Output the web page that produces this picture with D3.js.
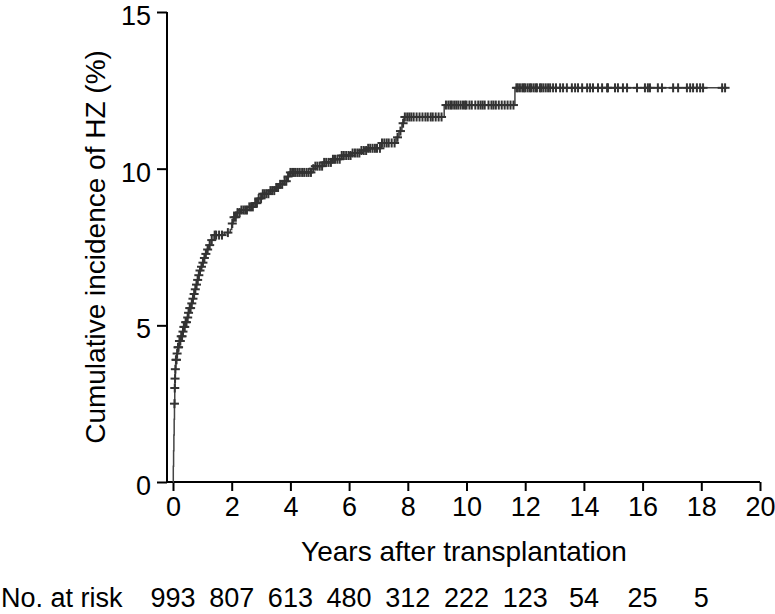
<!DOCTYPE html>
<html>
<head>
<meta charset="utf-8">
<script src="https://cdn.jsdelivr.net/npm/d3@7"></script>
<style>
  html, body { margin: 0; padding: 0; background: #fff; }
  svg { display: block; }
  text { font-family: "Liberation Sans", Arial, sans-serif; fill: #000; }
</style>
</head>
<body>
<svg id="chart" width="775" height="614"></svg>
<script>
// ---- data ----
const xTicks = [0, 2, 4, 6, 8, 10, 12, 14, 16, 18, 20];
const yTicks = [0, 5, 10, 15];
const riskTimes = [0, 2, 4, 6, 8, 10, 12, 14, 16, 18];
const riskCounts = [993, 807, 613, 480, 312, 222, 123, 54, 25, 5];
const eventTimes = [0, 0.01, 0.02, 0.03, 0.04, 0.05, 0.06, 0.07, 0.08, 0.1, 0.13, 0.17, 0.22, 0.27, 0.32, 0.37,
  0.42, 0.47, 0.52, 0.57, 0.62, 0.67, 0.72, 0.76, 0.8, 0.84, 0.88, 0.92, 0.96, 1.0, 1.05, 1.1, 1.15, 1.2,
  1.3, 1.4, 1.75, 1.95, 2.0, 2.05, 2.15, 2.3, 2.6, 2.75, 2.9, 3.05, 3.3, 3.5, 3.65, 3.78, 3.9, 3.97,
  4.72, 4.85, 5.1, 5.4, 5.75, 6.1, 6.4, 6.65, 7.1, 7.6, 7.7, 7.8, 7.87, 9.24, 11.65];
const eventValues = [0, 0.5, 1.0, 1.5, 2.0, 2.5, 3.0, 3.3, 3.6, 3.9, 4.1, 4.3, 4.5, 4.65, 4.8, 4.95,
  5.1, 5.25, 5.4, 5.55, 5.7, 5.85, 6.0, 6.15, 6.3, 6.45, 6.6, 6.75, 6.87, 7.0, 7.15, 7.28, 7.42, 7.56,
  7.72, 7.88, 7.96, 8.06, 8.25, 8.45, 8.6, 8.68, 8.78, 8.9, 9.05, 9.2, 9.3, 9.4, 9.5, 9.6, 9.75, 9.88,
  10.0, 10.08, 10.2, 10.3, 10.42, 10.5, 10.58, 10.65, 10.82, 11.0, 11.2, 11.45, 11.65, 12.03, 12.58];
const endTime = 18.87;
const censorTimes = [0.05, 0.06, 0.07, 0.08, 0.1, 0.12, 0.14, 0.17, 0.19, 0.22, 0.25, 0.28, 0.31, 0.34, 0.37, 0.4, 0.43, 0.46,
  0.5, 0.53, 0.57, 0.6, 0.64, 0.68, 0.72, 0.76, 0.8, 0.84, 0.88, 0.92, 0.97, 1.02, 1.07, 1.12, 1.18, 1.25,
  1.32, 1.42, 1.47, 1.57, 1.67, 1.87, 2.02, 2.08, 2.14, 2.2, 2.27, 2.33, 2.4, 2.46, 2.52, 2.6, 2.66, 2.72,
  2.8, 2.86, 2.92, 3.0, 3.06, 3.12, 3.18, 3.25, 3.32, 3.38, 3.45, 3.52, 3.58, 3.65, 3.72, 3.8, 3.86, 3.92,
  4.0, 4.06, 4.12, 4.18, 4.25, 4.32, 4.4, 4.47, 4.55, 4.62, 4.7, 4.78, 4.85, 4.92, 5.0, 5.08, 5.15, 5.22,
  5.3, 5.38, 5.45, 5.52, 5.6, 5.68, 5.75, 5.82, 5.9, 5.98, 6.05, 6.12, 6.2, 6.28, 6.35, 6.42, 6.5, 6.58,
  6.65, 6.72, 6.8, 6.88, 6.95, 7.05, 7.12, 7.2, 7.28, 7.35, 7.45, 7.55, 7.65, 7.75, 7.84,
  7.9, 7.98, 8.05, 8.12, 8.2, 8.3, 8.4, 8.5, 8.6, 8.68, 8.78, 8.85, 8.95, 9.05, 9.15,
  9.3, 9.38, 9.45, 9.5, 9.58, 9.65, 9.72, 9.8, 9.88, 9.95, 10.0, 10.1, 10.18, 10.3, 10.4, 10.48, 10.55,
  10.62, 10.75, 10.85, 10.92, 11.0, 11.1, 11.2, 11.3, 11.4, 11.5, 11.6,
  11.7, 11.75, 11.82, 11.9, 11.95, 12.0, 12.08, 12.15, 12.2, 12.28, 12.35, 12.4, 12.5, 12.55, 12.62, 12.7,
  12.78, 12.85, 12.95, 13.05, 13.19, 13.29, 13.42, 13.59, 13.7, 13.8, 13.94, 14.11, 14.21, 14.31, 14.48,
  14.62, 14.79, 14.82, 15.06, 15.16, 15.33, 15.47, 15.81, 16.08, 16.18, 16.25, 16.52, 16.66, 17.04, 17.21,
  17.51, 17.62, 17.72, 17.85, 17.96, 18.06, 18.71, 18.81];

// ---- chart ----
const svg = d3.select("#chart");
const axisX = 167, axisTop = 12, axisBottom = 482, axisRight = 760;
const x = d3.scaleLinear().domain([0, 20]).range([173, 760]);
const y = d3.scaleLinear().domain([0, 15]).range([482, 12]);
const fs = "27px";

// y axis
const gy = svg.append("g").attr("transform", `translate(${axisX},0)`)
  .call(d3.axisLeft(y).tickValues(yTicks).tickSize(10).tickPadding(6).tickSizeOuter(0));
gy.select(".domain").remove();
gy.selectAll(".tick line").attr("stroke", "#000").attr("stroke-width", 2);
gy.selectAll(".tick text").style("font-size", fs).attr("dy", "0.46em");
svg.append("line").attr("x1", axisX).attr("x2", axisX).attr("y1", axisTop).attr("y2", axisBottom + 1)
  .attr("stroke", "#000").attr("stroke-width", 2);

// x axis
const gx = svg.append("g").attr("transform", `translate(0,${axisBottom})`)
  .call(d3.axisBottom(x).tickValues(xTicks).tickSize(9).tickPadding(6).tickSizeOuter(0));
gx.select(".domain").remove();
gx.selectAll(".tick line").attr("stroke", "#000").attr("stroke-width", 2);
gx.selectAll(".tick text").style("font-size", fs).attr("dy", "0.72em");
svg.append("line").attr("x1", axisX - 1).attr("x2", axisRight).attr("y1", axisBottom).attr("y2", axisBottom)
  .attr("stroke", "#000").attr("stroke-width", 2);

// axis titles
svg.append("text").attr("transform", `translate(105,247) rotate(-90)`)
  .attr("text-anchor", "middle").style("font-size", "28px")
  .text("Cumulative incidence of HZ (%)");
svg.append("text").attr("x", 464).attr("y", 561).attr("text-anchor", "middle")
  .style("font-size", "28px").text("Years after transplantation");

// risk table
svg.append("text").attr("x", 1).attr("y", 607).style("font-size", fs).text("No. at risk");
svg.selectAll("text.risk").data(riskCounts).enter().append("text").attr("class", "risk")
  .attr("x", (d, i) => x(riskTimes[i])).attr("y", 607).attr("text-anchor", "middle")
  .style("font-size", fs).text(d => d);

// step curve
const events = eventTimes.map((t, i) => [t, eventValues[i]]);
events.push([endTime, eventValues[eventValues.length - 1]]);
const line = d3.line().x(d => x(d[0])).y(d => y(d[1])).curve(d3.curveStepAfter);
svg.append("path").datum(events).attr("d", line).attr("fill", "none")
  .attr("stroke", "#444").attr("stroke-width", 1.5);

// censor marks
const bis = d3.bisector(d => d).right;
const valueAt = t => eventValues[Math.max(0, bis(eventTimes, t) - 1)];
const half = 4.5;
const cg = svg.append("g").attr("stroke", "#333").attr("stroke-width", 2);
censorTimes.forEach(t => {
  const cx = x(t), cy = y(valueAt(t));
  cg.append("line").attr("x1", cx - half).attr("x2", cx + half).attr("y1", cy).attr("y2", cy);
  cg.append("line").attr("x1", cx).attr("x2", cx).attr("y1", cy - half).attr("y2", cy + half);
});
</script>
</body>
</html>
